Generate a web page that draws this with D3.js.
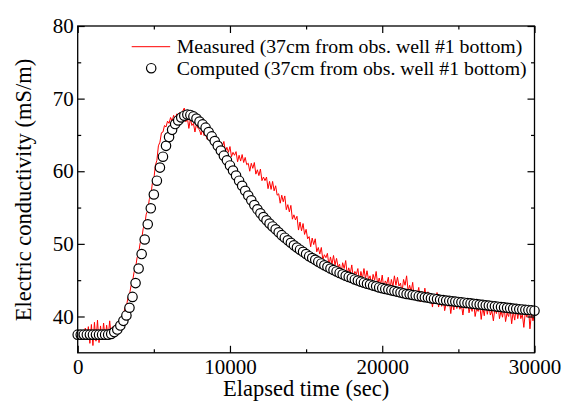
<!DOCTYPE html>
<html>
<head>
<meta charset="utf-8">
<script src="https://cdn.jsdelivr.net/npm/d3@7"></script>
<style>
    body { margin: 0; background: #fff; }
    text { font-family: "Liberation Serif", "Times New Roman", serif; fill: #000; }
</style>
</head>
<body>
<div id="chart"></div>
<script>
// axis ticks
const X_TICKS = [0, 10000, 20000, 30000];
const X_MINOR = [5000, 15000, 25000];
const Y_TICKS = [40, 50, 60, 70, 80];
const Y_MINOR = [45, 55, 65, 75];

// computed EC, one point every 200 sec from 0 to 30000
const COMPUTED_STEP = 200;
const computedValues = [
    37.5, 37.5, 37.5, 37.5, 37.5, 37.5, 37.5, 37.5, 37.5, 37.5,
    37.5, 37.6, 37.85, 38.2, 38.75, 39.4, 40.15, 41.2, 42.7, 44.6,
    46.6, 48.6, 50.6, 52.7, 54.9, 56.8, 58.7, 60.5, 62.0, 63.5,
    64.7, 65.7, 66.5, 67.0, 67.4, 67.65, 67.8, 67.75, 67.55, 67.25,
    66.85, 66.45, 66.0, 65.4, 64.8, 64.15, 63.5, 62.85, 62.15, 61.5,
    60.8, 60.1, 59.4, 58.7, 58.0, 57.3, 56.65, 56.0, 55.35, 54.75,
    54.2, 53.7, 53.25, 52.8, 52.4, 52.0, 51.6, 51.2, 50.85, 50.5,
    50.15, 49.8, 49.5, 49.2, 48.9, 48.6, 48.3, 48.05, 47.8, 47.55,
    47.3, 47.05, 46.85, 46.6, 46.4, 46.2, 46.0, 45.8, 45.6, 45.45,
    45.3, 45.1, 44.95, 44.8, 44.65, 44.5, 44.4, 44.25, 44.15, 44.0,
    43.9, 43.8, 43.7, 43.6, 43.5, 43.4, 43.3, 43.2, 43.1, 43.05,
    42.95, 42.9, 42.8, 42.75, 42.65, 42.6, 42.5, 42.45, 42.4, 42.3,
    42.25, 42.2, 42.15, 42.1, 42.05, 42.0, 41.95, 41.9, 41.85, 41.8,
    41.75, 41.7, 41.65, 41.6, 41.55, 41.5, 41.45, 41.4, 41.35, 41.3,
    41.25, 41.2, 41.15, 41.1, 41.05, 41.0, 40.97, 40.93, 40.9, 40.85,
    40.8
];

// measured EC, one reading every 100 sec from 0 to 30000
const MEASURED_STEP = 100;
const measuredValues = [
    37.6, 37.9, 37.2, 38.0, 37.3, 38.4, 36.9, 38.6, 36.3, 38.9,
    36.0, 39.2, 36.6, 39.5, 36.4, 38.7, 36.8, 39.1, 37.0, 38.8,
    37.1, 39.4, 37.3, 38.6, 37.6, 38.9, 38.3, 39.3, 39.2, 40.1,
    40.1, 41.2, 41.4, 42.6, 43.0, 44.2, 44.8, 46.1, 46.7, 48.1,
    48.7, 50.1, 50.6, 52.1, 52.6, 54.1, 54.6, 56.1, 56.6, 58.3,
    58.9, 60.8, 61.5, 63.5, 64.0, 65.3, 65.4, 66.3, 66.1, 66.9,
    66.6, 67.4, 66.9, 67.7, 67.0, 67.9, 67.2, 68.1, 67.3, 68.3,
    68.7, 66.8, 67.4, 65.9, 67.2, 66.3, 66.6, 65.4, 66.5, 65.9,
    65.7, 65.0, 65.8, 64.9, 65.2, 64.4, 65.3, 64.6, 64.7, 64.1,
    64.7, 63.7, 64.0, 63.0, 64.0, 63.4, 64.1, 62.7, 63.3, 62.6,
    63.4, 62.0, 62.6, 62.2, 62.7, 61.3, 62.2, 61.4, 62.3, 61.2,
    61.9, 60.9, 61.1, 60.0, 61.1, 60.4, 61.2, 59.6, 60.2, 59.4,
    60.3, 58.7, 59.2, 58.7, 59.2, 57.6, 58.6, 57.5, 58.6, 57.3,
    58.0, 56.7, 56.9, 55.6, 56.7, 55.8, 56.6, 54.7, 55.4, 54.4,
    55.3, 53.4, 54.0, 53.3, 53.8, 51.9, 53.0, 51.8, 52.8, 51.3,
    52.0, 50.7, 51.0, 49.6, 50.8, 49.9, 50.7, 48.9, 49.5, 48.6,
    49.5, 47.8, 48.5, 48.1, 48.7, 47.0, 48.2, 47.2, 48.4, 47.1,
    48.0, 46.8, 47.2, 45.9, 47.4, 46.6, 47.7, 45.8, 46.7, 45.9,
    47.1, 45.3, 46.2, 45.8, 46.6, 44.8, 46.2, 45.2, 46.6, 45.2,
    46.3, 45.1, 45.6, 44.3, 45.8, 45.0, 46.2, 44.4, 45.3, 44.4,
    45.7, 43.9, 44.9, 44.5, 45.4, 43.6, 45.1, 44.1, 45.6, 44.3,
    45.4, 44.2, 44.6, 43.3, 45.1, 44.3, 45.6, 43.5, 44.3, 43.4,
    44.7, 42.6, 43.6, 43.1, 44.0, 42.0, 43.5, 42.3, 43.9, 42.4,
    43.4, 42.2, 42.7, 41.3, 42.9, 42.1, 43.3, 41.3, 42.3, 41.4,
    42.8, 40.8, 41.8, 41.4, 42.4, 40.4, 42.0, 40.9, 42.6, 41.1,
    42.2, 41.0, 41.6, 40.2, 41.9, 41.1, 42.4, 40.5, 41.5, 40.7,
    42.1, 40.0, 41.1, 40.7, 41.7, 39.6, 41.3, 40.1, 41.9, 40.3,
    41.5, 40.2, 40.8, 39.4, 41.2, 40.4, 41.8, 39.7, 40.8, 39.9,
    41.4, 39.3, 40.5, 40.0, 41.1, 39.0, 40.7, 39.5, 41.3, 39.7,
    41.1, 39.7, 40.3, 38.5, 40.7, 39.9, 41.4, 38.3, 40.4, 39.4,
    40.3
];

const LEGEND_LABELS = [
    'Measured (37cm from obs. well #1 bottom)',
    'Computed (37cm from obs. well #1 bottom)'
];

// set the dimensions and margins of the graph
const MARGIN = { top: 26, right: 28.5, bottom: 52.2, left: 77.7 };
const WIDTH = 563 - MARGIN.left - MARGIN.right;
const HEIGHT = 405 - MARGIN.top - MARGIN.bottom;
const FONT = 21;

let svg = d3.select('#chart')
    .append('svg')
    .attr('width', 563)
    .attr('height', 405)
    .append('g')
    .attr('transform', 'translate(' + MARGIN.left + ',' + MARGIN.top + ')');

let x = d3.scaleLinear().domain([0, 30000]).range([0, WIDTH]);
let y = d3.scaleLinear().domain([35, 80]).range([HEIGHT, 0]);

let measured = measuredValues.map((v, i) => ({ t: i * MEASURED_STEP, v: v }));
let computed = computedValues.map((v, i) => ({ t: i * COMPUTED_STEP, v: v }));

// measured line
svg.append('path')
    .datum(measured)
    .attr('fill', 'none')
    .attr('stroke', '#ff0000')
    .attr('stroke-width', 1)
    .attr('d', d3.line()
        .x((d) => x(d.t))
        .y((d) => y(d.v))
    );

// computed circles
svg.append('g')
    .selectAll('circle')
    .data(computed)
    .join('circle')
    .attr('cx', (d) => x(d.t))
    .attr('cy', (d) => y(d.v))
    .attr('r', 4.7)
    .attr('fill', '#fff')
    .attr('stroke', '#000')
    .attr('stroke-width', 1.2);

// axes, ticks point inward
function styleAxis(g) {
    g.select('.domain').remove();
    g.selectAll('.tick line').attr('stroke', '#000').attr('stroke-width', 1.2);
    g.selectAll('.tick text')
        .style('font-family', '"Liberation Serif", "Times New Roman", serif')
        .style('font-size', FONT + 'px')
        .attr('fill', '#000');
}

svg.append('g')
    .attr('transform', 'translate(0,' + HEIGHT + ')')
    .call(d3.axisBottom(x).tickValues(X_TICKS).tickFormat(d3.format('d'))
        .tickSizeInner(-7).tickSizeOuter(0).tickPadding(6))
    .call(styleAxis);
svg.append('g')
    .attr('transform', 'translate(0,' + HEIGHT + ')')
    .call(d3.axisBottom(x).tickValues(X_MINOR).tickFormat('')
        .tickSizeInner(-3.5).tickSizeOuter(0))
    .call(styleAxis);
svg.append('g')
    .call(d3.axisTop(x).tickValues(X_TICKS).tickFormat('')
        .tickSizeInner(-7).tickSizeOuter(0))
    .call(styleAxis);
svg.append('g')
    .call(d3.axisTop(x).tickValues(X_MINOR).tickFormat('')
        .tickSizeInner(-3.5).tickSizeOuter(0))
    .call(styleAxis);

svg.append('g')
    .call(d3.axisLeft(y).tickValues(Y_TICKS)
        .tickSizeInner(-7).tickSizeOuter(0).tickPadding(4))
    .call(styleAxis);
svg.append('g')
    .call(d3.axisLeft(y).tickValues(Y_MINOR).tickFormat('')
        .tickSizeInner(-3.5).tickSizeOuter(0))
    .call(styleAxis);
svg.append('g')
    .attr('transform', 'translate(' + WIDTH + ',0)')
    .call(d3.axisRight(y).tickValues(Y_TICKS).tickFormat('')
        .tickSizeInner(-7).tickSizeOuter(0))
    .call(styleAxis);
svg.append('g')
    .attr('transform', 'translate(' + WIDTH + ',0)')
    .call(d3.axisRight(y).tickValues(Y_MINOR).tickFormat('')
        .tickSizeInner(-3.5).tickSizeOuter(0))
    .call(styleAxis);

// frame
svg.append('rect')
    .attr('width', WIDTH)
    .attr('height', HEIGHT)
    .attr('fill', 'none')
    .attr('stroke', '#000')
    .attr('stroke-width', 1.3);

// axis titles
svg.append('text')
    .attr('x', WIDTH / 2)
    .attr('y', HEIGHT + 43.5)
    .attr('text-anchor', 'middle')
    .style('font-size', '22.5px')
    .text('Elapsed time (sec)');

svg.append('text')
    .attr('transform', 'translate(' + (31 - MARGIN.left) + ',' + (190 - MARGIN.top) + ') rotate(-90)')
    .attr('text-anchor', 'middle')
    .style('font-size', '22.5px')
    .text('Electric conductivity (mS/m)');

// legend
let legend = svg.append('g')
    .attr('transform', 'translate(' + (131.7 - MARGIN.left) + ',' + (46.7 - MARGIN.top) + ')');
legend.append('line')
    .attr('x1', 0).attr('x2', 38.5)
    .attr('y1', 0).attr('y2', 0)
    .attr('stroke', '#ff0000')
    .attr('stroke-width', 1);
legend.append('circle')
    .attr('cx', 19.5).attr('cy', 21.5)
    .attr('r', 4.7)
    .attr('fill', '#fff')
    .attr('stroke', '#000')
    .attr('stroke-width', 1.2);
legend.selectAll('text.lbl')
    .data(LEGEND_LABELS)
    .join('text')
    .attr('class', 'lbl')
    .attr('x', 45)
    .attr('y', (d, i) => 6.5 + i * 22)
    .style('font-size', '19.8px')
    .text((d) => d);
</script>
</body>
</html>
